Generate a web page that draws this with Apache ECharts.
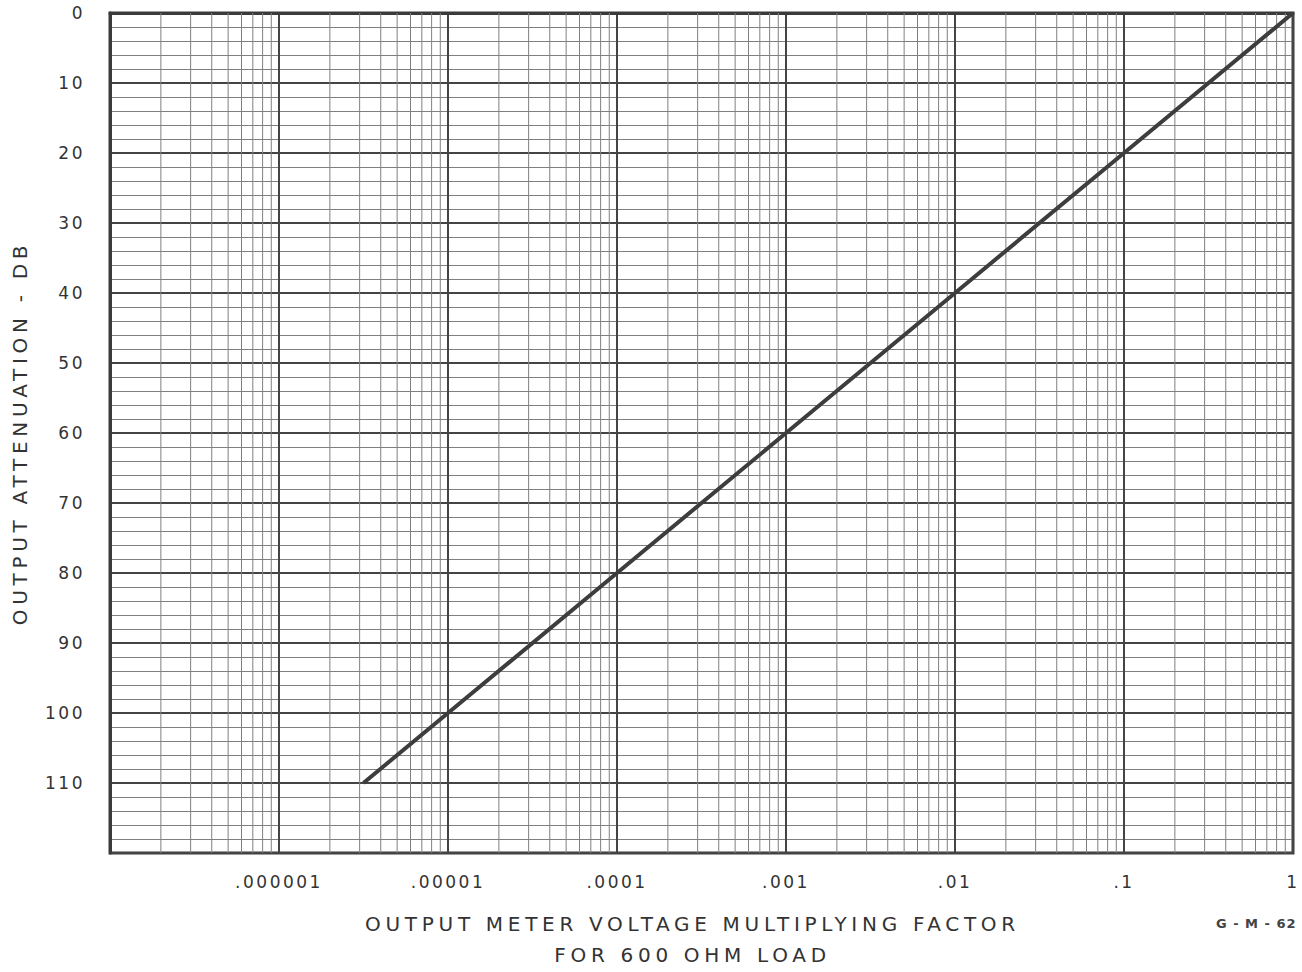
<!DOCTYPE html>
<html>
<head>
<meta charset="utf-8">
<script src="https://cdn.jsdelivr.net/npm/echarts@6/dist/echarts.min.js"></script>
<style>
  html, body { margin: 0; padding: 0; background: #fff; }
  #container { width: 1302px; height: 972px; }
  #container text { letter-spacing: 2.5px; }
  #container text[style*="20px"] { letter-spacing: 4.7px; }
  #container text[style*="13px"] { letter-spacing: 1px; }
</style>
</head>
<body>
<div id="container"></div>
<script>
// curve: multiplying factor vs attenuation (dB)
var factors = [1, 0.1, 0.01, 0.001, 0.0001, 0.00001, 0.00000316];
var attenuation = [0, 20, 40, 60, 80, 100, 110];

// x axis decade labels
var decades = [1e-7, 1e-6, 1e-5, 1e-4, 1e-3, 1e-2, 1e-1, 1];
var decadeLabels = ['', '.000001', '.00001', '.0001', '.001', '.01', '.1', '1'];
// y tick labels (120 at the bottom edge is not printed)
var dbLabels = ['0', '10', '20', '30', '40', '50', '60', '70', '80', '90', '100', '110', ''];
// log paper subdivisions within a decade
var minorSteps = [2, 3, 4, 5, 6, 7, 8, 9];

var dom = document.getElementById('container');
var myChart = echarts.init(dom, null, { renderer: 'svg' });

var ink = '#3a3a3a';

var lineData = factors.map(function (f, i) { return [f, attenuation[i]]; });

// vertical log-paper lines, one small series each
var gridSeries = [];
for (var d = 0; d < decades.length - 1; d++) {
    minorSteps.forEach(function (k) {
        var v = decades[d] * k;
        gridSeries.push({
            type: 'line',
            silent: true,
            symbol: 'none',
            z: 1,
            lineStyle: { color: '#808080', width: 1 },
            data: [[v, 0], [v, 120]]
        });
    });
}

var option = {
    backgroundColor: '#fff',
    animation: false,
    grid: {
        left: 110,
        right: 9,
        top: 13,
        bottom: 119,
        outerBoundsMode: 'none',
        containLabel: false,
        show: true,
        borderColor: ink,
        borderWidth: 3
    },
    xAxis: {
        type: 'log',
        logBase: 10,
        min: 1e-7,
        max: 1,
        name: 'OUTPUT METER VOLTAGE MULTIPLYING FACTOR\nFOR 600 OHM LOAD',
        nameLocation: 'middle',
        nameGap: 55,
        nameTextStyle: {
            fontFamily: 'DejaVu Sans',
            fontSize: 20,
            color: '#333',
            lineHeight: 31,
            padding: [0, 18, 0, 0]
        },
        axisLine: { show: true, lineStyle: { color: ink, width: 3 } },
        axisTick: { show: false },
        axisLabel: {
            margin: 20,
            fontFamily: 'DejaVu Sans',
            fontSize: 17,
            color: '#333',
            formatter: function (v) {
                var i = Math.round(Math.log10(v)) + 7;
                return decadeLabels[i] || '';
            }
        },
        splitLine: { show: true, lineStyle: { color: '#444', width: 2 } }
    },
    yAxis: {
        type: 'value',
        inverse: true,
        min: 0,
        max: 120,
        interval: 10,
        name: 'OUTPUT ATTENUATION - DB',
        nameLocation: 'middle',
        nameGap: 80,
        nameTextStyle: {
            fontFamily: 'DejaVu Sans',
            fontSize: 20,
            color: '#333'
        },
        axisLine: { show: true, lineStyle: { color: ink, width: 3 } },
        axisTick: { show: false },
        axisLabel: {
            margin: 25,
            fontFamily: 'DejaVu Sans',
            fontSize: 17,
            color: '#333',
            formatter: function (v) {
                return dbLabels[Math.round(v / 10)];
            }
        },
        splitLine: { show: true, lineStyle: { color: '#444', width: 2 } },
        minorTick: { show: false, splitNumber: 5 },
        minorSplitLine: { show: true, lineStyle: { color: '#808080', width: 1 } }
    },
    graphic: [{
        type: 'text',
        left: 1216,
        top: 917,
        style: {
            text: 'G - M - 62',
            fontFamily: 'DejaVu Sans',
            fontSize: 13,
            fontWeight: 'bold',
            fill: '#444'
        }
    }],
    series: gridSeries.concat([{
        name: 'attenuation',
        type: 'line',
        data: lineData,
        showSymbol: false,
        symbol: 'none',
        lineStyle: { color: '#3d3d3d', width: 4 },
        z: 5
    }])
};

myChart.setOption(option);
</script>
</body>
</html>
